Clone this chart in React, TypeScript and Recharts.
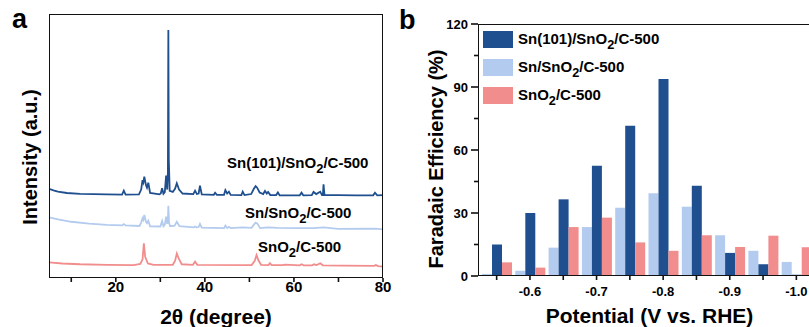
import {
  LineChart,
  Line,
  BarChart,
  Bar,
  XAxis,
  YAxis,
  Legend,
} from "recharts";

// ---- panel a: XRD patterns, [2θ (degree), intensity (a.u., offset included)]
const sn101Trace: [number, number][] = [
  [5, 33.8], [6, 33.2], [7, 32.7], [9, 32.2], [12, 31.9], [15, 31.8], [18, 31.7],
  [21.4, 31.6], [21.8, 33.1], [22.2, 31.6], [25.2, 31.7], [25.7, 33.5], [26.0, 37.1],
  [26.2, 36.2], [26.4, 38.4], [26.8, 35.0], [27.0, 34.2], [27.3, 36.1], [27.7, 32.2],
  [29.8, 31.7], [30.1, 32.0], [30.4, 34.0], [30.7, 31.9], [31.0, 32.5], [31.3, 38.8],
  [31.55, 33.5], [31.7, 40], [31.8, 93.9], [31.9, 45], [32.1, 33.0], [32.8, 32.6],
  [33.3, 33.8], [33.7, 35.9], [34.2, 33.5], [35.0, 32.0], [37.4, 31.8], [37.8, 33.1],
  [38.2, 31.8], [38.6, 32.0], [38.9, 35.0], [39.3, 31.7], [42.0, 31.5], [42.3, 32.3],
  [42.7, 31.5], [44.3, 31.5], [44.6, 33.3], [45.0, 32.0], [45.4, 32.7], [45.8, 31.5],
  [48.2, 31.4], [48.5, 32.7], [48.9, 31.4], [50.4, 31.8], [51.0, 33.8], [51.4, 34.8],
  [51.7, 34.3], [52.3, 32.4], [53.1, 31.8], [53.5, 33.0], [53.9, 32.0], [54.2, 32.6],
  [54.7, 31.4], [56.0, 31.4], [56.4, 32.4], [56.8, 31.3], [61.3, 31.3], [61.7, 32.3],
  [62.1, 31.3], [64.0, 31.4], [64.4, 32.6], [65.0, 31.8], [65.9, 32.7], [66.3, 31.4],
  [66.5, 31.4], [66.65, 35.5], [66.85, 31.5], [70, 31.4], [74, 31.3], [77.8, 31.3],
  [78.2, 32.3], [78.7, 31.3], [80, 31.4],
];

const snSnO2Trace: [number, number][] = [
  [5, 23.0], [7, 22.2], [10, 21.3], [14, 20.6], [18, 20.1], [21.4, 19.9], [21.8, 20.4],
  [22.2, 19.9], [25.3, 19.7], [25.7, 21.0], [26.0, 22.6], [26.2, 22.0], [26.4, 23.9],
  [26.8, 21.2], [27.0, 20.8], [27.3, 21.7], [27.7, 19.6], [30.0, 19.5], [30.4, 21.6],
  [30.7, 19.6], [31.0, 20.2], [31.3, 23.2], [31.55, 20.5], [31.7, 21.5], [31.8, 27.4],
  [31.95, 21.0], [32.2, 19.6], [33.2, 19.8], [33.7, 21.3], [34.3, 19.6], [37.5, 19.2],
  [37.8, 19.5], [38.2, 19.2], [38.6, 19.3], [38.9, 20.5], [39.3, 19.1], [44.3, 18.9],
  [44.6, 19.8], [45.0, 18.9], [45.4, 19.4], [45.8, 18.9], [48.5, 19.2], [50.5, 19.0],
  [51.0, 20.2], [51.4, 21.0], [51.8, 20.6], [52.4, 18.9], [54.2, 19.2], [56.4, 19.0],
  [61.7, 18.9], [64.4, 18.9], [66.6, 19.2], [70, 18.6], [78.2, 18.7], [80, 18.4],
];

const snO2Trace: [number, number][] = [
  [5, 5.9], [8, 5.5], [12, 5.2], [18, 5.0], [24, 4.9], [25.5, 5.3], [26.0, 7.0],
  [26.3, 13.1], [26.6, 8.0], [27.2, 5.5], [28.5, 5.0], [32.8, 5.0], [33.3, 6.5],
  [33.7, 9.3], [34.1, 7.5], [34.8, 5.2], [37.3, 5.0], [37.8, 6.2], [38.3, 5.0],
  [50.5, 4.9], [51.2, 6.5], [51.6, 8.7], [52.0, 6.8], [52.6, 5.0], [54.3, 4.9],
  [54.6, 5.6], [55.0, 4.9], [57.5, 4.9], [58, 5.1], [61.3, 4.8], [61.7, 5.2],
  [62.2, 4.8], [64.1, 4.8], [64.5, 5.2], [65.1, 4.9], [65.9, 5.6], [66.5, 4.8],
  [71, 4.7], [78.0, 4.6], [78.4, 4.9], [78.9, 4.5], [80, 4.3],
];

const thetaDomain = [5, 80];
const thetaTicks = [10, 20, 30, 40, 50, 60, 70, 80];
const thetaLabels = [20, 40, 60, 80];

// ---- panel b: Faradaic efficiency (%) per potential
const potentials = ["-0.55", "-0.6", "-0.65", "-0.7", "-0.75", "-0.8", "-0.85", "-0.9", "-0.95", "-1.0"];
const potentialLabels = ["-0.6", "-0.7", "-0.8", "-0.9", "-1.0"];
const feSn101 = [15, 30, 36.5, 52.5, 71.5, 93.8, 43, 11, 5.6, 0.6];
const feSnSnO2 = [1, 2.5, 13.5, 23.3, 32.5, 39.4, 33, 19.4, 12, 6.7];
const feSnO2 = [6.5, 4, 23.3, 27.8, 16, 12, 19.4, 13.8, 19.2, 13.7];
const feTicks = [0, 15, 30, 45, 60, 75, 90, 105, 120];

const DARK = "#1f4f8e";
const LIGHT = "#b3cbee";
const PINK = "#f28d8d";
const INK = "#111";
const FONT = "'Liberation Sans', Arial, sans-serif";

const legendItems = [
  { name: "Sn(101)/SnO2/C-500", color: DARK },
  { name: "Sn/SnO2/C-500", color: LIGHT },
  { name: "SnO2/C-500", color: PINK },
];

const toPoints = (arr: [number, number][]) => arr.map(([t, v]) => ({ t, v }));

const feData = potentials.map((p, i) => ({
  p,
  sn101: feSn101[i],
  snSnO2: feSnSnO2[i],
  snO2: feSnO2[i],
}));

// "SnO2" -> SnO + subscript 2
function chem(name: string) {
  const parts = name.split(/(?<=O)2/);
  return parts.flatMap((part, i) =>
    i === 0
      ? [<span key={i}>{part}</span>]
      : [
          <span key={"s" + i} style={{ fontSize: "0.85em", position: "relative", top: 5 }}>2</span>,
          <span key={i}>{part}</span>,
        ]
  );
}

function chemSvg(name: string) {
  const parts = name.split(/(?<=O)2/);
  return parts.flatMap((part, i) =>
    i === 0
      ? [<tspan key={i}>{part}</tspan>]
      : [
          <tspan key={"s" + i} dy={5} fontSize={13}>2</tspan>,
          <tspan key={i} dy={-5}>{part}</tspan>,
        ]
  );
}

// rotated axis title, centred on the axis box
const vTitle = (text: string, dx: number, dy: number) => (props: any) => {
  const { x, y, width, height } = props.viewBox;
  const cx = x + width / 2 + dx;
  const cy = y + height / 2 + dy;
  return (
    <text
      x={cx}
      y={cy}
      transform={`rotate(-90 ${cx} ${cy})`}
      textAnchor="middle"
      dominantBaseline="central"
      fontSize={20}
      fontWeight="bold"
      fill="#000"
      fontFamily={FONT}
    >
      {text}
    </text>
  );
};

const A_TS = 3, A_TM = 0;
function ThetaTick({ x, y, payload }: any) {
  const y0 = y - A_TS - A_TM;
  return (
    <g>
      <rect x={x - 0.8} y={y0} width={1.6} height={A_TS + 1} fill={INK} />
      {thetaLabels.includes(payload.value) && (
        <text x={x} y={y} dy="0.71em" textAnchor="middle" fontSize={15} fontWeight="bold" fill="#000">
          {payload.value}
        </text>
      )}
    </g>
  );
}

const B_TS = 4, B_TM = 7;
function PotTick({ x, y, payload }: any) {
  const y0 = y - B_TS - B_TM;
  return (
    <g>
      <rect x={x - 0.8} y={y0} width={1.6} height={B_TS} fill={INK} />
      {potentialLabels.includes(payload.value) && (
        <text x={x} y={y} dy="0.71em" textAnchor="middle" fontSize={13} fontWeight="bold" fill="#000">
          {payload.value}
        </text>
      )}
    </g>
  );
}

const F_TS = 4, F_TM = 6;
function FeTick({ x, y, payload }: any) {
  const x0 = x + F_TS + F_TM;
  const major = payload.value % 30 === 0;
  const len = major ? 7 : 4;
  return (
    <g>
      <rect x={x0 - len} y={y - 0.8} width={len} height={1.6} fill={INK} />
      {major && (
        <text x={x} y={y} dy={4.5} textAnchor="end" fontSize={13} fontWeight="bold" fill="#000">
          {payload.value}
        </text>
      )}
    </g>
  );
}

function FeLegend() {
  return (
    <div style={{ fontFamily: FONT }}>
      {legendItems.map((it) => (
        <div key={it.name} style={{ display: "flex", alignItems: "center", height: 28 }}>
          <div style={{ width: 30, height: 17, background: it.color, marginRight: 5 }} />
          <span style={{ fontSize: 15, fontWeight: "bold", color: "#000", lineHeight: 1 }}>
            {chem(it.name)}
          </span>
        </div>
      ))}
    </div>
  );
}

const frameBorder = `1.5px solid ${INK}`;

export default function App() {
  return (
    <div
      style={{
        position: "absolute",
        left: 0,
        top: 0,
        width: 809,
        height: 327,
        overflow: "hidden",
        background: "#fff",
        fontFamily: FONT,
      }}
    >
      {/* ── a: XRD ───────────────────────────── */}
      <div style={{ position: "absolute", left: 0, top: 0 }}>
        <LineChart width={400} height={327} margin={{ top: 14, right: 17, left: 11, bottom: 0 }}>
          <XAxis
            dataKey="t"
            type="number"
            domain={thetaDomain}
            ticks={thetaTicks}
            allowDataOverflow
            height={49}
            axisLine={false}
            tickLine={false}
            tickSize={A_TS}
            tickMargin={A_TM}
            tick={<ThetaTick />}
            label={{
              value: "2θ (degree)",
              position: "insideBottom",
              offset: 3,
              fill: "#000",
              fontSize: 21,
              fontWeight: "bold",
            }}
          />
          <YAxis
            domain={[0, 100]}
            width={38}
            tick={false}
            tickLine={false}
            axisLine={false}
            label={{ content: vTitle("Intensity (a.u.)", 0, 11) }}
          />
          <Line data={toPoints(sn101Trace)} dataKey="v" type="linear" dot={false} stroke={DARK} strokeWidth={1.8} isAnimationActive={false} />
          <Line data={toPoints(snSnO2Trace)} dataKey="v" type="linear" dot={false} stroke={LIGHT} strokeWidth={1.8} isAnimationActive={false} />
          <Line data={toPoints(snO2Trace)} dataKey="v" type="linear" dot={false} stroke={PINK} strokeWidth={1.8} isAnimationActive={false} />
        </LineChart>
      </div>

      {/* ── b: Faradaic efficiency ───────────── */}
      <div style={{ position: "absolute", left: 400, top: 0 }}>
        <BarChart
          width={440}
          height={327}
          data={feData}
          margin={{ top: 24, right: 19, left: 0, bottom: 0 }}
          barGap={0}
          barSize={10}
        >
          <XAxis
            dataKey="p"
            interval={0}
            height={51}
            padding={{ left: 2, right: 8 }}
            axisLine={false}
            tickLine={false}
            tickSize={B_TS}
            tickMargin={B_TM}
            tick={<PotTick />}
            label={{
              value: "Potential (V vs. RHE)",
              position: "insideBottom",
              offset: 4,
              fill: "#000",
              fontSize: 21,
              fontWeight: "bold",
            }}
          />
          <YAxis
            domain={[0, 120]}
            ticks={feTicks}
            width={78}
            axisLine={false}
            tickLine={false}
            tickSize={F_TS}
            tickMargin={F_TM}
            tick={<FeTick />}
            label={{ content: vTitle("Faradaic Efficiency (%)", -3, 9) }}
          />
          <Legend
            layout="vertical"
            align="center"
            verticalAlign="middle"
            content={() => <FeLegend />}
            wrapperStyle={{ left: 83, top: 25, width: "auto", height: "auto" }}
          />
          <Bar dataKey="snSnO2" fill={LIGHT} isAnimationActive={false} />
          <Bar dataKey="sn101" fill={DARK} isAnimationActive={false} />
          <Bar dataKey="snO2" fill={PINK} isAnimationActive={false} />
        </BarChart>
      </div>

      {/* plot frames (same boxes as the chart margins above) */}
      <div
        style={{
          position: "absolute",
          left: 49,
          top: 14,
          width: 334,
          height: 264,
          border: frameBorder,
          boxSizing: "border-box",
          pointerEvents: "none",
        }}
      />
      <div
        style={{
          position: "absolute",
          left: 478,
          top: 24,
          width: 343,
          height: 252,
          border: frameBorder,
          boxSizing: "border-box",
          pointerEvents: "none",
        }}
      />

      {/* panel letters and curve labels */}
      <svg
        width={809}
        height={327}
        style={{ position: "absolute", left: 0, top: 0, pointerEvents: "none" }}
        fontFamily={FONT}
        fontWeight="bold"
        fill="#000"
      >
        <text x={12} y={28} fontSize={27}>a</text>
        <text x={399} y={29} fontSize={27}>b</text>
        <text x={227} y={168} fontSize={15}>{chemSvg("Sn(101)/SnO2/C-500")}</text>
        <text x={245} y={218} fontSize={15}>{chemSvg("Sn/SnO2/C-500")}</text>
        <text x={258} y={252} fontSize={15}>{chemSvg("SnO2/C-500")}</text>
      </svg>
    </div>
  );
}
